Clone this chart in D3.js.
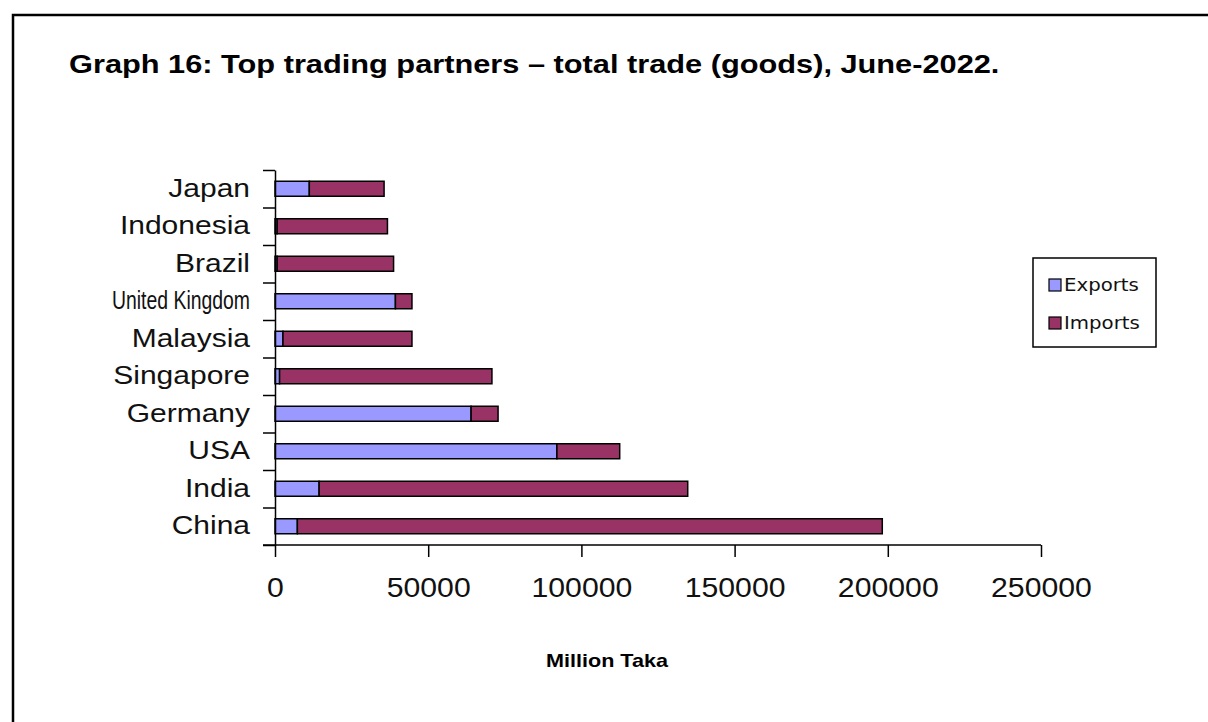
<html>
<head>
<meta charset="utf-8">
<script src="https://cdn.jsdelivr.net/npm/d3@7/dist/d3.min.js"></script>
<style>
  body { margin: 0; background: #fff; font-family: "Liberation Sans", Arial, sans-serif; }
</style>
</head>
<body>
<svg id="chart"></svg>
<script>
// data (million taka), top to bottom
let countries = ["Japan", "Indonesia", "Brazil", "United Kingdom", "Malaysia",
                 "Singapore", "Germany", "USA", "India", "China"];
let exportsVals = [11200, 700, 700, 39300, 2600, 1500, 64000, 92000, 14400, 7300];
let importsVals = [24400, 36000, 38000, 5400, 42100, 69300, 8800, 20500, 120300, 190900];
let xTicks = [0, 50000, 100000, 150000, 200000, 250000];
let seriesNames = ["Exports", "Imports"];
let seriesColors = ["#9999ff", "#993366"];

let width = 1208, height = 722;
let margin = { top: 170, left: 275, right: 167, bottom: 177 };

let svg = d3.select("#chart").attr("width", width).attr("height", height);

// outer frame (runs off the right and bottom edge)
svg.append("rect")
  .attr("x", 13).attr("y", 15).attr("width", 1400).attr("height", 900)
  .attr("fill", "none").attr("stroke", "#000").attr("stroke-width", 2.5);

svg.append("text")
  .attr("transform", "translate(69,73) scale(1.23,1)")
  .attr("font-size", 25).attr("font-weight", "bold")
  .text("Graph 16: Top trading partners – total trade (goods), June-2022.");

let x = d3.scaleLinear().domain([0, 250000]).range([margin.left, width - margin.right]);
let y = d3.scaleBand().domain(countries)
  .range([margin.top, height - margin.bottom])
  .paddingInner(0.6).paddingOuter(0.3);
let yIdx = d3.scaleLinear().domain([0, countries.length])
  .range([margin.top, height - margin.bottom]);

// stacked rows
let rows = countries.map((c, i) => ({ c, e: exportsVals[i], m: importsVals[i] }));
let stack = d3.stack().keys(["e", "m"])(rows);

svg.append("g").selectAll("g").data(stack).enter().append("g")
  .attr("fill", (d, i) => seriesColors[i])
  .selectAll("rect").data(d => d).enter().append("rect")
  .attr("x", d => x(d[0]))
  .attr("width", d => x(d[1]) - x(d[0]))
  .attr("y", d => y(d.data.c))
  .attr("height", y.bandwidth())
  .attr("stroke", "#000").attr("stroke-width", 1.5);

// x axis
let axX = svg.append("g")
  .attr("transform", `translate(0,${height - margin.bottom})`)
  .call(d3.axisBottom(x).tickValues(xTicks).tickSize(12).tickPadding(21).tickFormat(d3.format("d")));
axX.selectAll("text").attr("font-size", 27).attr("font-family", "Liberation Sans, Arial")
  .attr("fill", "#111").attr("transform", "scale(1.12,1)");
axX.select(".domain").attr("d", `M${margin.left - 12},0H${width - margin.right}`);
axX.selectAll("path, line").attr("stroke", "#000").attr("stroke-width", 1.5);

// y axis: tick marks between categories
let axY = svg.append("g")
  .attr("transform", `translate(${margin.left},0)`)
  .call(d3.axisLeft(yIdx).tickValues(d3.range(countries.length + 1)).tickSize(12).tickSizeOuter(0).tickFormat(""));
axY.selectAll("path, line").attr("stroke", "#000").attr("stroke-width", 1.5);

let sx = 1.2, maxLab = 138;
let axLab = svg.append("g")
  .attr("transform", `translate(${margin.left},0)`)
  .call(d3.axisLeft(y).tickSize(0).tickPadding(25));
axLab.select(".domain").remove();
axLab.selectAll("text").attr("font-size", 25).attr("font-family", "Liberation Sans, Arial")
  .attr("fill", "#111").attr("transform", `scale(${sx},1)`).attr("x", -25 / sx)
  .each(function () {
    // long labels get squeezed into the margin
    if (this.getComputedTextLength() * sx > maxLab) {
      d3.select(this).attr("textLength", maxLab / sx).attr("lengthAdjust", "spacingAndGlyphs");
    }
  });

svg.append("text")
  .attr("transform", "translate(607,667) scale(1.2,1)")
  .attr("text-anchor", "middle").attr("font-size", 18).attr("font-weight", "bold")
  .text("Million Taka");

// legend
let lg = svg.append("g").attr("transform", "translate(1033,258)");
lg.append("rect").attr("width", 123).attr("height", 89)
  .attr("fill", "#fff").attr("stroke", "#000").attr("stroke-width", 1.5);
seriesNames.forEach((s, i) => {
  lg.append("rect").attr("x", 16).attr("y", 21 + i * 38).attr("width", 12).attr("height", 12)
    .attr("fill", seriesColors[i]).attr("stroke", "#000").attr("stroke-width", 1.2);
  lg.append("text").attr("transform", `translate(31,${33 + i * 38}) scale(1.22,1)`)
    .attr("font-size", 18).attr("font-family", "DejaVu Sans Condensed, Liberation Sans")
    .attr("fill", "#111").text(s);
});
</script>
</body>
</html>
